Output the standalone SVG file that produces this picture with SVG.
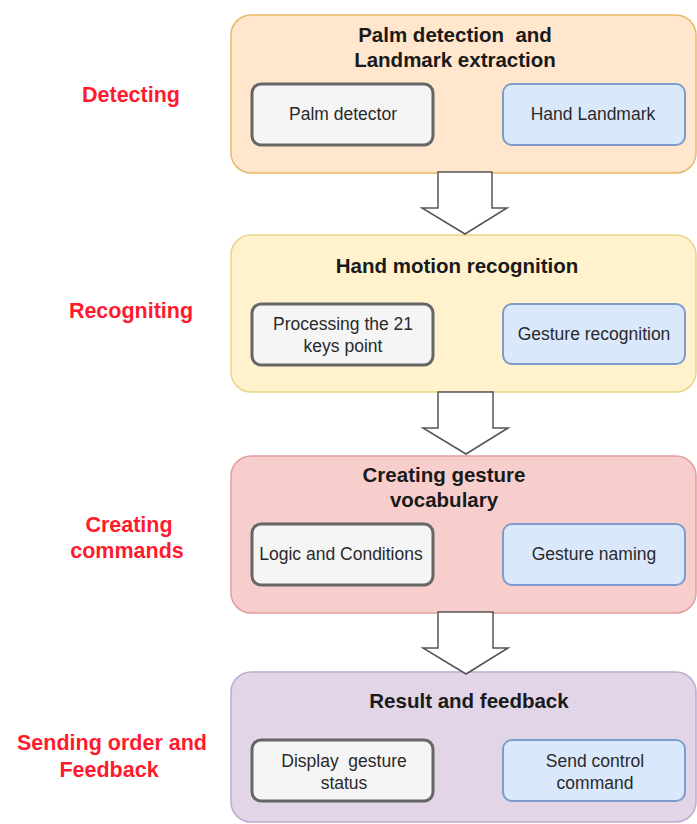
<svg xmlns="http://www.w3.org/2000/svg" width="697" height="824" viewBox="0 0 697 824">
  <style>
    text { font-family: "Liberation Sans", Arial, sans-serif; text-anchor: middle; white-space: pre; }
    .title { font-size: 20.5px; font-weight: bold; fill: #1a1a1a; }
    .item { font-size: 17.5px; fill: #2a2a2a; }
    .stage { font-size: 21.5px; font-weight: bold; fill: #ff1a2e; }
    .grey { fill: #f5f5f5; stroke: #666666; stroke-width: 3; }
    .blue { fill: #dae8fc; stroke: #7d9ccc; stroke-width: 2; }
    .arrow { fill: #ffffff; stroke: #555555; stroke-width: 1.5; stroke-linejoin: miter; }
  </style>

  <!-- stage labels -->
  <g id="stage-labels">
    <text class="stage" x="131" y="102">Detecting</text>
    <text class="stage" x="131" y="318">Recogniting</text>
    <text class="stage" x="129" y="532">Creating</text>
    <text class="stage" x="127" y="558">commands</text>
    <text class="stage" x="112" y="750">Sending order and</text>
    <text class="stage" x="109" y="777">Feedback</text>
  </g>

  <!-- stage 1 -->
  <g id="palm-landmark">
    <rect x="231" y="15" width="465" height="158" rx="20" fill="#ffe6cc" stroke="#e9b866" stroke-width="1.5"/>
    <text class="title" x="455" y="42" xml:space="preserve">Palm detection  and</text>
    <text class="title" x="455" y="67">Landmark extraction</text>
  </g>
  <g id="palm-detector">
    <rect class="grey" x="252" y="84" width="181" height="61" rx="9"/>
    <text class="item" x="343" y="120">Palm detector</text>
  </g>
  <g id="hand-landmark">
    <rect class="blue" x="503" y="84" width="182" height="61" rx="9"/>
    <text class="item" x="593" y="120">Hand Landmark</text>
  </g>

  <!-- stage 2 -->
  <g id="hand-motion">
    <rect x="231" y="235" width="465" height="157" rx="20" fill="#fff2cc" stroke="#ead489" stroke-width="1.5"/>
    <text class="title" x="457" y="273">Hand motion recognition</text>
  </g>
  <g id="processing-keypoints">
    <rect class="grey" x="252" y="304" width="181" height="61" rx="9"/>
    <text class="item" x="343" y="330">Processing the 21</text>
    <text class="item" x="343" y="352">keys point</text>
  </g>
  <g id="gesture-recognition">
    <rect class="blue" x="503" y="304" width="182" height="60" rx="9"/>
    <text class="item" x="594" y="340">Gesture recognition</text>
  </g>

  <!-- stage 3 -->
  <g id="gesture-vocabulary">
    <rect x="231" y="456" width="465" height="157" rx="20" fill="#f8cecc" stroke="#e09f9c" stroke-width="1.5"/>
    <text class="title" x="444" y="482">Creating gesture</text>
    <text class="title" x="444" y="507">vocabulary</text>
  </g>
  <g id="logic-conditions">
    <rect class="grey" x="252" y="524" width="181" height="61" rx="9"/>
    <text class="item" x="341" y="560">Logic and Conditions</text>
  </g>
  <g id="gesture-naming">
    <rect class="blue" x="503" y="524" width="182" height="61" rx="9"/>
    <text class="item" x="594" y="560">Gesture naming</text>
  </g>

  <!-- stage 4 -->
  <g id="result-feedback">
    <rect x="231" y="672" width="465" height="150" rx="20" fill="#e1d5e7" stroke="#c0a9cf" stroke-width="1.5"/>
    <text class="title" x="469" y="708">Result and feedback</text>
  </g>
  <g id="display-status">
    <rect class="grey" x="252" y="740" width="181" height="61" rx="9"/>
    <text class="item" x="344" y="767" xml:space="preserve">Display  gesture</text>
    <text class="item" x="344" y="789">status</text>
  </g>
  <g id="send-command">
    <rect class="blue" x="503" y="740" width="182" height="61" rx="9"/>
    <text class="item" x="595" y="767">Send control</text>
    <text class="item" x="595" y="789">command</text>
  </g>

  <!-- block arrows between stages -->
  <g id="connectors">
    <path class="arrow" d="M438 172 H492 V208 H507 L465 234 L422 208 H438 Z"/>
    <path class="arrow" d="M438 392 H493 V428 H508 L466 454 L423 428 H438 Z"/>
    <path class="arrow" d="M438 612 H493 V648 H508 L466 674 L423 648 H438 Z"/>
  </g>
</svg>
